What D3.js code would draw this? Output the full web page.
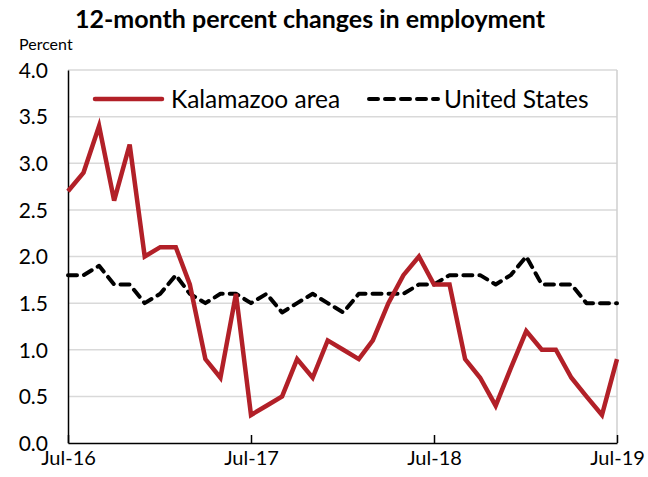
<!DOCTYPE html>
<html>
<head>
<meta charset="utf-8">
<script src="https://cdn.jsdelivr.net/npm/d3@7"></script>
<style>
  html, body { margin: 0; padding: 0; background: #fff; }
  svg text { font-family: Lato, "Liberation Sans", sans-serif; fill: #000; }
</style>
</head>
<body>
<svg id="chart" width="648" height="477"></svg>
<script>
// Monthly observations, Jul-16 through Jul-19
const months = d3.range(37).map(i => new Date(2016, 6 + i, 1));
const kalamazoo = [2.7, 2.9, 3.4, 2.6, 3.2, 2.0, 2.1, 2.1, 1.7, 0.9, 0.7, 1.6,
                   0.3, 0.4, 0.5, 0.9, 0.7, 1.1, 1.0, 0.9, 1.1, 1.5, 1.8, 2.0,
                   1.7, 1.7, 0.9, 0.7, 0.4, 0.8, 1.2, 1.0, 1.0, 0.7, 0.5, 0.3, 0.9];
const unitedStates = [1.8, 1.8, 1.9, 1.7, 1.7, 1.5, 1.6, 1.8, 1.6, 1.5, 1.6, 1.6,
                      1.5, 1.6, 1.4, 1.5, 1.6, 1.5, 1.4, 1.6, 1.6, 1.6, 1.6, 1.7,
                      1.7, 1.8, 1.8, 1.8, 1.7, 1.8, 2.0, 1.7, 1.7, 1.7, 1.5, 1.5, 1.5];
const yTicks = [0, 0.5, 1.0, 1.5, 2.0, 2.5, 3.0, 3.5, 4.0];
const xTicks = [new Date(2016, 6, 1), new Date(2017, 6, 1), new Date(2018, 6, 1), new Date(2019, 6, 1)];
const seriesNames = ["Kalamazoo area", "United States"];

const svg = d3.select("#chart");
const plotLeft = 68, plotRight = 617, plotTop = 70, plotBottom = 443;

const x = d3.scaleTime().domain([months[0], months[36]]).range([plotLeft, plotRight]);
const y = d3.scaleLinear().domain([0, 4]).range([plotBottom, plotTop]);

// Title and unit label
svg.append("text").attr("x", 310).attr("y", 28).attr("text-anchor", "middle")
  .style("font-size", "25px").style("font-weight", "bold")
  .text("12-month percent changes in employment");
svg.append("text").attr("x", 19).attr("y", 50).style("font-size", "16px").text("Percent");

// Horizontal gridlines
svg.append("g").selectAll("line").data(yTicks.filter(d => d > 0)).join("line")
  .attr("x1", plotLeft).attr("x2", plotRight)
  .attr("y1", d => y(d)).attr("y2", d => y(d))
  .attr("stroke", "#d9d9d9").attr("stroke-width", 1.5);

// Right border of plot area
svg.append("line").attr("x1", plotRight).attr("x2", plotRight).attr("y1", plotTop).attr("y2", plotBottom)
  .attr("stroke", "#cfcfcf").attr("stroke-width", 1.5);

// Y axis
const yAxis = svg.append("g").attr("transform", `translate(${plotLeft},0)`)
  .call(d3.axisLeft(y).tickValues(yTicks).tickFormat(d3.format(".1f")).tickSize(0).tickPadding(20));
yAxis.select(".domain").attr("stroke", "#000").attr("stroke-width", 1.5);
yAxis.selectAll("text").style("font-size", "21px").attr("dy", "0.35em")
  .style("font-family", "Lato, sans-serif");

// X axis
const xAxis = svg.append("g").attr("transform", `translate(0,${plotBottom})`)
  .call(d3.axisBottom(x).tickValues(xTicks).tickFormat(d3.timeFormat("%b-%y")).tickSize(8).tickSizeOuter(0).tickPadding(4));
xAxis.select(".domain").attr("stroke", "#000").attr("stroke-width", 1.5);
xAxis.selectAll(".tick line").attr("stroke", "#000").attr("stroke-width", 1.5).attr("y1", -8).attr("y2", 0);
xAxis.selectAll("text").style("font-size", "20px").attr("y", 8).attr("dy", "0.71em")
  .style("font-family", "Lato, sans-serif");

// Series lines
const line = d3.line().x((d, i) => x(months[i])).y(d => y(d));
svg.append("path").datum(unitedStates).attr("d", line)
  .attr("fill", "none").attr("stroke", "#000").attr("stroke-width", 4)
  .attr("stroke-dasharray", "9,7").attr("stroke-linecap", "round").attr("stroke-linejoin", "round");
svg.append("path").datum(kalamazoo).attr("d", line)
  .attr("fill", "none").attr("stroke", "#b22028").attr("stroke-width", 4.5)
  .attr("stroke-linejoin", "miter");

// Legend
const legend = svg.append("g");
legend.append("line").attr("x1", 95).attr("x2", 162).attr("y1", 99).attr("y2", 99)
  .attr("stroke", "#b22028").attr("stroke-width", 4.5).attr("stroke-linecap", "round");
legend.append("text").attr("x", 171).attr("y", 108).style("font-size", "24.5px").text(seriesNames[0]);
legend.append("line").attr("x1", 369).attr("x2", 438).attr("y1", 99).attr("y2", 99)
  .attr("stroke", "#000").attr("stroke-width", 4).attr("stroke-dasharray", "9,7")
  .attr("stroke-linecap", "round");
legend.append("text").attr("x", 444).attr("y", 108).style("font-size", "24.5px").text(seriesNames[1]);
</script>
</body>
</html>
